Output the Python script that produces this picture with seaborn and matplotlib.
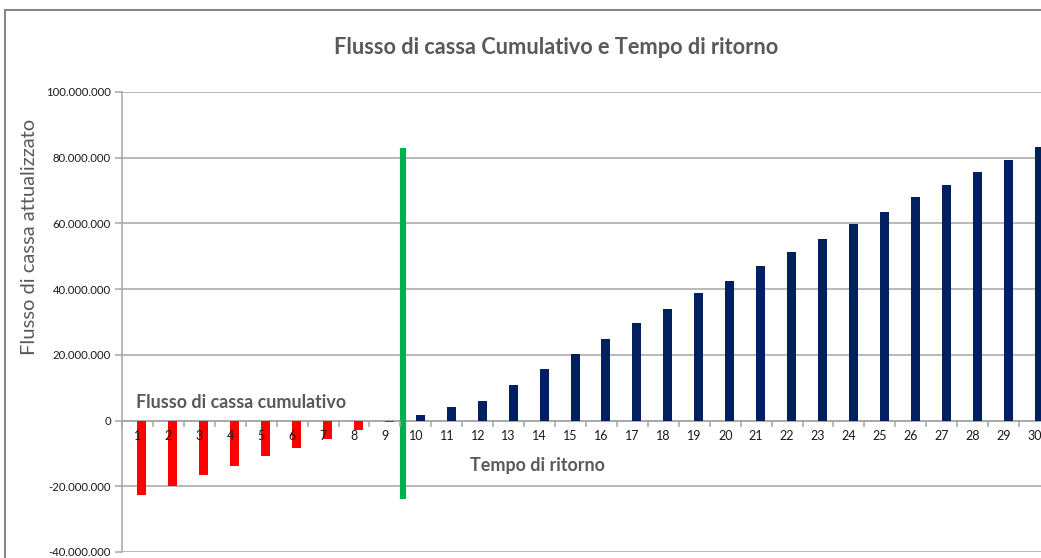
import numpy as np
import pandas as pd
import matplotlib
matplotlib.use("Agg")
import matplotlib.pyplot as plt
import matplotlib.patches as mpatches
from matplotlib.ticker import FuncFormatter, FixedLocator
import seaborn as sns

# ---- data ----
years = list(range(1, 31))
cumulative_flow = [-22.7, -19.8, -16.6, -13.9, -10.8, -8.4, -5.7, -2.9, -0.4,
                   1.6, 4.0, 5.9, 10.7, 15.6, 20.4, 24.9, 29.6, 34.1, 38.7, 42.6,
                   46.9, 51.2, 55.4, 59.7, 63.6, 67.9, 71.8, 75.8, 79.4, 83.4]  # millions
payback_year = 9.6
payback_line_range = [-24.0, 83.0]  # millions
title = "Flusso di cassa Cumulativo e Tempo di ritorno"
ylabel = "Flusso di cassa attualizzato"
series_label = "Flusso di cassa cumulativo"
xlabel = "Tempo di ritorno"

values = np.array(cumulative_flow) * 1e6
df = pd.DataFrame({
    "anno": [str(y) for y in years],
    "valore": values,
    "segno": ["neg" if v < 0 else "pos" for v in values],
})

sns.set_theme(style="white")
plt.rcParams["font.family"] = ["Lato", "DejaVu Sans"]

fig = plt.figure(figsize=(10.41, 5.58), dpi=100)
ax = fig.add_axes([122 / 1041, 1 - 552 / 558, (1050 - 122) / 1041, (552 - 92) / 558])

sns.barplot(data=df, x="anno", y="valore", hue="segno",
            palette={"neg": "#FF0000", "pos": "#002060"},
            dodge=False, width=0.29, legend=False, ax=ax, zorder=3,
            saturation=1)
for p in ax.patches:
    p.set_x(p.get_x() + 0.145)
    p.set_linewidth(0)

# payback line
px = payback_year - 1
ax.plot([px, px], np.array(payback_line_range) * 1e6, color="#00B050",
        linewidth=4.4, solid_capstyle="butt", zorder=4)

ax.set_xlim(-0.5, 29.5)
ax.set_ylim(-40e6, 100e6)
ax.yaxis.set_major_locator(FixedLocator(np.arange(-40e6, 100e6 + 1, 20e6)))
ax.yaxis.set_major_formatter(FuncFormatter(lambda v, _: f"{v:,.0f}".replace(",", ".")))
ax.grid(axis="y", color="#A6A6A6", linewidth=1.1)
ax.set_axisbelow(True)
ax.xaxis.set_zorder(5)

for s in ["top", "right"]:
    ax.spines[s].set_visible(False)
ax.spines["left"].set_color("#A6A6A6")
ax.spines["left"].set_linewidth(1.1)
ax.spines["bottom"].set_position(("data", 0))
ax.spines["bottom"].set_color("#A6A6A6")
ax.spines["bottom"].set_linewidth(1.1)
ax.spines["bottom"].set_zorder(2)

ax.tick_params(axis="y", which="major", left=True, length=5, width=1.1,
               color="#A6A6A6", labelsize=8.2, labelcolor="#1a1a1a", pad=3)
ax.tick_params(axis="x", which="major", bottom=False, length=0,
               labelsize=9, labelcolor="#1a1a1a", pad=7)
ax.set_xticks(np.arange(-0.5, 30, 1), minor=True)
ax.tick_params(axis="x", which="minor", bottom=True, length=4, width=1.1,
               color="#A6A6A6")
ax.set_xlabel("")
ax.set_ylabel("")

fig.text(30 / 1041, 1 - 237 / 558, ylabel, rotation=90, ha="center", va="center",
         fontsize=14.5, color="#595959")
fig.text(556 / 1041, 1 - 47 / 558, title, ha="center", va="center",
         fontsize=15.7, fontweight="bold", color="#595959")
fig.text(136 / 1041, 1 - 402 / 558, series_label, ha="left", va="center",
         fontsize=12.9, fontweight="bold", color="#595959")
fig.text(470 / 1041, 1 - 466 / 558, xlabel, ha="left", va="center",
         fontsize=12.9, fontweight="bold", color="#595959")

# outer chart border
border = mpatches.Rectangle((5 / 1041, -0.2), 2.0, 1.2 - 10 / 558,
                            transform=fig.transFigure, fill=False,
                            edgecolor="#868686", linewidth=1.5)
fig.add_artist(border)

fig.savefig("out.png", dpi=100)
